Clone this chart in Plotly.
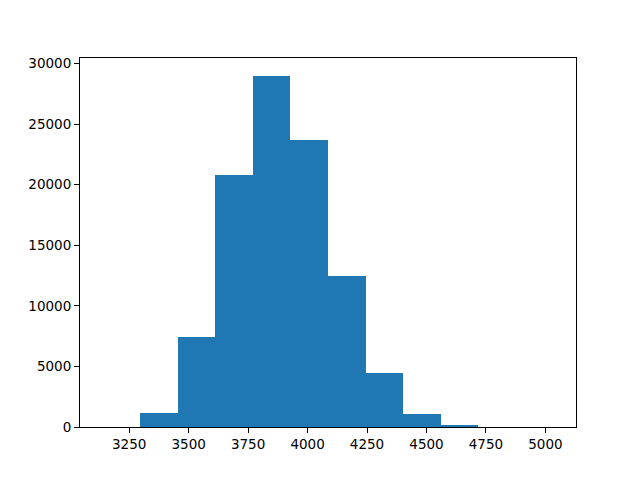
import plotly.graph_objects as go

# histogram bin edges (12 equal bins) and counts
bin_edges = [3138, 3296, 3454, 3612, 3770, 3928, 4086, 4244, 4402, 4560, 4718, 4876, 5034]
counts = [0, 1178, 7460, 20790, 29010, 23660, 12460, 4470, 1096, 185, 0, 0]

centers = [(a + b) / 2 for a, b in zip(bin_edges[:-1], bin_edges[1:])]
widths = [b - a for a, b in zip(bin_edges[:-1], bin_edges[1:])]

x_ticks = [3250, 3500, 3750, 4000, 4250, 4500, 4750, 5000]
y_ticks = [0, 5000, 10000, 15000, 20000, 25000, 30000]

fig = go.Figure(go.Bar(x=centers, y=counts, width=widths,
                       marker=dict(color="#1f77b4", line=dict(width=0))))

span = bin_edges[-1] - bin_edges[0]
# page body has an 8px margin, so the plot area is offset to compensate
fig.update_layout(
    width=640, height=480,
    margin=dict(l=72, r=72, t=50, b=61),
    paper_bgcolor="white", plot_bgcolor="white",
    font=dict(family="DejaVu Sans", size=13.5, color="black"),
    bargap=0, showlegend=False,
)
fig.update_xaxes(range=[bin_edges[0] - 0.05 * span, bin_edges[-1] + 0.05 * span],
                 tickvals=x_ticks, ticktext=[str(v) for v in x_ticks],
                 showgrid=False, zeroline=False,
                 showline=True, linecolor="black", linewidth=1, mirror=True,
                 ticks="outside", ticklen=5, tickcolor="black")
fig.update_yaxes(range=[0, max(counts) * 1.05],
                 tickvals=y_ticks, ticktext=[str(v) for v in y_ticks],
                 showgrid=False, zeroline=False,
                 showline=True, linecolor="black", linewidth=1, mirror=True,
                 ticks="outside", ticklen=5, tickcolor="black")

fig.write_html("out.html")
